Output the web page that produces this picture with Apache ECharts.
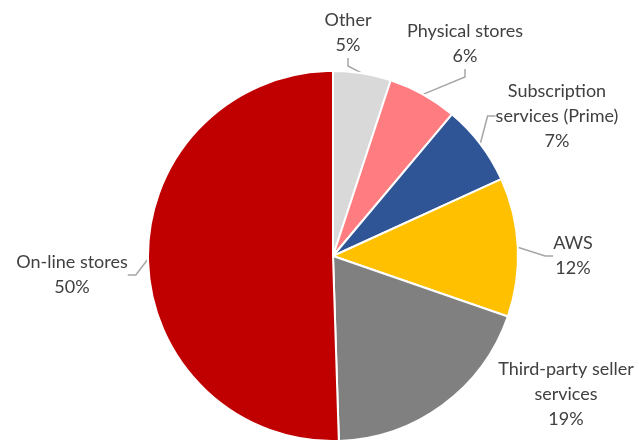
<!DOCTYPE html>
<html><head><meta charset="utf-8">
<script src="https://cdn.jsdelivr.net/npm/echarts@6/dist/echarts.min.js"></script>
<style>html,body{margin:0;padding:0;background:#fff}#c{width:639px;height:440px}</style>
</head><body><div id="c"></div>
<script>
const categories = ["Other", "Physical stores", "Subscription\nservices (Prime)", "AWS", "Third-party seller\nservices", "On-line stores"];
const values = [5, 6, 7, 12, 19, 50];
const colors = ["#d9d9d9", "#ff7c80", "#2f5597", "#ffc000", "#808080", "#c00000"];

// label block centres (layout only)
const labelCenters = [[348, 33], [465, 44], [557, 116], [573, 256], [566, 394], [72, 275]];
const showLine = [true, true, true, true, false, true];

const chart = echarts.init(document.getElementById('c'));
chart.setOption({
  animation: false,
  series: [{
    type: 'pie',
    center: [333, 256],
    radius: 185,
    startAngle: 90,
    clockwise: true,
    data: categories.map((n, i) => ({
      name: n, value: values[i],
      itemStyle: {color: colors[i]},
      labelLine: {show: showLine[i]}
    })),
    itemStyle: {borderColor: '#fff', borderWidth: 2},
    label: {
      show: true,
      position: 'outside',
      formatter: p => p.name + '\n' + p.value + '%',
      color: '#404040',
      fontFamily: 'Lato',
      fontSize: 18,
      lineHeight: 25,
      align: 'center',
      overflow: 'none'
    },
    labelLine: {show: true, length: 8, length2: 8, lineStyle: {color: '#a6a6a6', width: 1.5}},
    labelLayout: p => ({
      x: labelCenters[p.dataIndex][0],
      y: labelCenters[p.dataIndex][1],
      align: 'center',
      verticalAlign: 'middle'
    }),
    emphasis: {disabled: true}
  }]
});
</script></body></html>
